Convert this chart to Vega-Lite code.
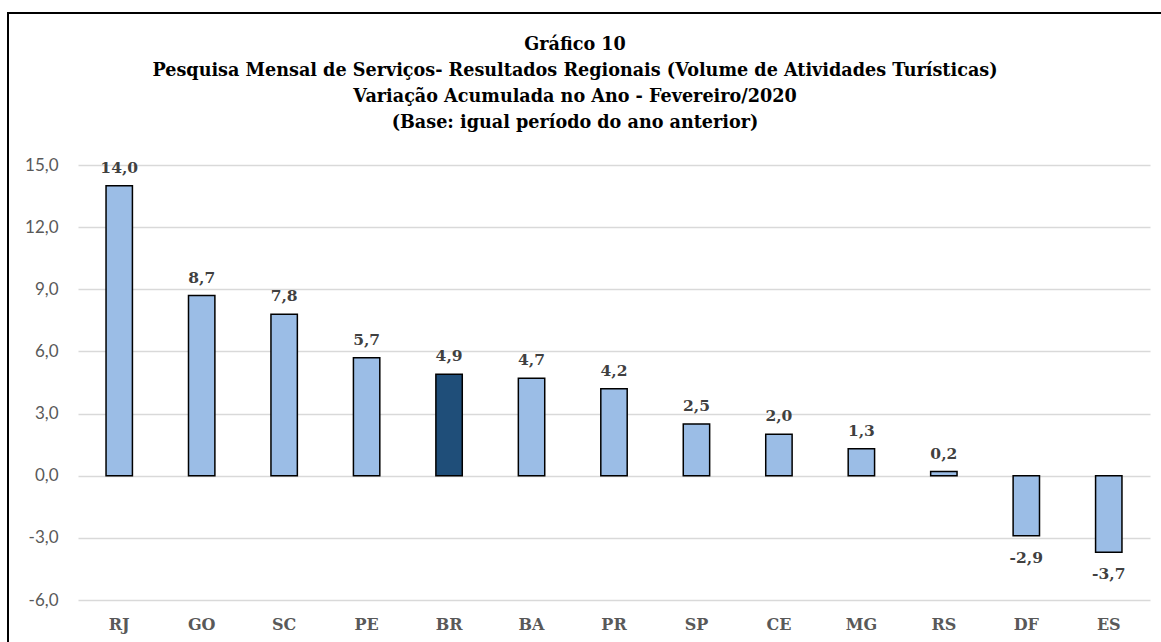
{
  "$schema": "https://vega.github.io/schema/vega-lite/v6.json",
  "width": 1156,
  "height": 632,
  "autosize": {"type": "none"},
  "padding": {"left": 8, "top": 13, "right": -3, "bottom": -3},
  "background": "white",
  "config": {
    "view": {"stroke": "#000000", "strokeWidth": 2},
    "locale": {"number": {"decimal": ",", "thousands": ".", "grouping": [3], "currency": ["R$", ""], "minus": "-"}}
  },
  "title": {
    "text": [
      "Gráfico 10",
      "Pesquisa Mensal de Serviços- Resultados Regionais (Volume de Atividades Turísticas)",
      "Variação Acumulada no Ano - Fevereiro/2020",
      "(Base: igual período do ano anterior)"
    ],
    "anchor": "middle",
    "frame": "group",
    "baseline": "top",
    "offset": -119,
    "dx": -11,
    "font": "DejaVu Serif",
    "fontSize": 17.6,
    "fontWeight": "bold",
    "color": "#000000",
    "lineHeight": 26
  },
  "data": {
    "values": [
      {"uf": "RJ", "valor": 14.0},
      {"uf": "GO", "valor": 8.7},
      {"uf": "SC", "valor": 7.8},
      {"uf": "PE", "valor": 5.7},
      {"uf": "BR", "valor": 4.9},
      {"uf": "BA", "valor": 4.7},
      {"uf": "PR", "valor": 4.2},
      {"uf": "SP", "valor": 2.5},
      {"uf": "CE", "valor": 2.0},
      {"uf": "MG", "valor": 1.3},
      {"uf": "RS", "valor": 0.2},
      {"uf": "DF", "valor": -2.9},
      {"uf": "ES", "valor": -3.7}
    ]
  },
  "encoding": {
    "x": {
      "field": "uf",
      "type": "nominal",
      "sort": null,
      "scale": {"range": [70, 1142], "paddingInner": 0.68, "paddingOuter": 0.34},
      "axis": {
        "title": null,
        "orient": "bottom",
        "offset": -45,
        "domain": false,
        "ticks": false,
        "labelPadding": 16,
        "labelAngle": 0,
        "labelFont": "DejaVu Serif",
        "labelFontWeight": "bold",
        "labelFontSize": 16,
        "labelColor": "#595959"
      }
    },
    "y": {
      "field": "valor",
      "type": "quantitative",
      "scale": {"domain": [-6, 15], "range": [587, 152], "nice": false, "zero": false},
      "axis": {
        "title": null,
        "offset": -70,
        "domain": false,
        "grid": false,
        "ticks": true,
        "tickSize": -1072,
        "tickColor": "#D9D9D9",
        "tickWidth": 1.3,
        "values": [-6, -3, 0, 3, 6, 9, 12, 15],
        "format": ".1f",
        "labelPadding": 1092,
        "labelFont": "Lato",
        "labelFontSize": 17,
        "labelColor": "#595959"
      }
    }
  },
  "layer": [
    {
      "mark": {"type": "bar", "stroke": "#000000", "strokeWidth": 1.5},
      "encoding": {
        "fill": {
          "condition": {"test": "datum.uf === 'BR'", "value": "#1F4E79"},
          "value": "#9BBDE6"
        }
      }
    },
    {
      "transform": [{"filter": "datum.valor >= 0"}],
      "mark": {"type": "text", "baseline": "alphabetic", "dy": -13, "font": "DejaVu Serif", "fontWeight": "bold", "fontSize": 15.5, "fill": "#404040"},
      "encoding": {"text": {"field": "valor", "type": "quantitative", "format": ".1f"}}
    },
    {
      "transform": [{"filter": "datum.valor < 0"}],
      "mark": {"type": "text", "baseline": "alphabetic", "dy": 27, "font": "DejaVu Serif", "fontWeight": "bold", "fontSize": 15.5, "fill": "#404040"},
      "encoding": {"text": {"field": "valor", "type": "quantitative", "format": ".1f"}}
    }
  ]
}
